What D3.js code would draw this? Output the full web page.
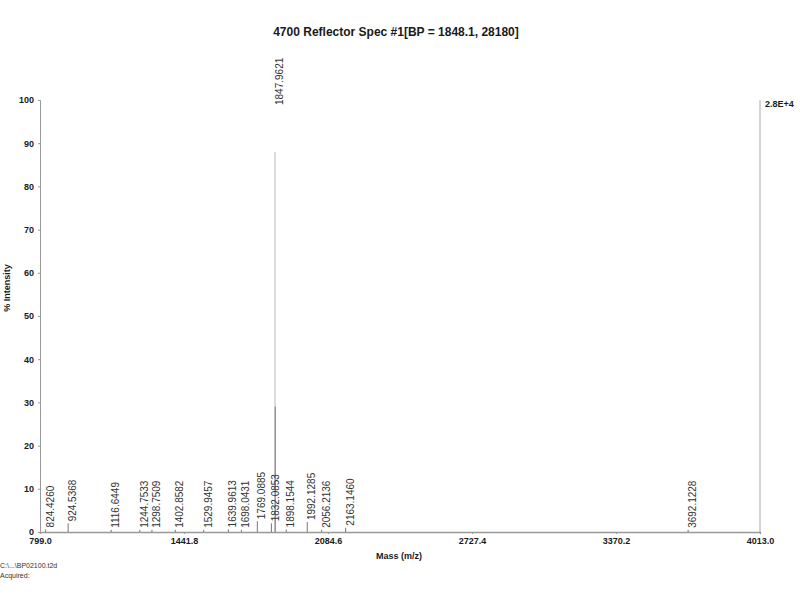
<!DOCTYPE html>
<html>
<head>
<meta charset="utf-8">
<script src="https://cdn.jsdelivr.net/npm/d3@7"></script>
<style>
  html, body { margin: 0; padding: 0; background: #fff; }
  svg { display: block; font-family: "Liberation Sans", Arial, sans-serif; }
</style>
</head>
<body>
<svg id="chart" width="800" height="600"></svg>
<script>
// ---- data ----
const title = "4700 Reflector Spec #1[BP = 1848.1, 28180]";
const xTicks = [799.0, 1441.8, 2084.6, 2727.4, 3370.2, 4013.0];
const yTicks = [0, 10, 20, 30, 40, 50, 60, 70, 80, 90, 100];
const peakMz = [824.4260, 924.5368, 1116.6449, 1244.7533, 1298.7509, 1402.8582,
  1529.9457, 1639.9613, 1698.0431, 1769.0885, 1832.0853, 1847.9621, 1848.96,
  1898.1544, 1992.1285, 2056.2136, 2163.1460, 3692.1228];
const peakInt = [0.6, 2.0, 0.5, 0.5, 0.5, 0.5, 0.5, 0.6, 0.5, 2.5, 2.0, 88, 29,
  0.6, 2.3, 0.5, 1.0, 0.5];
const peakLabeled = [true, true, true, true, true, true, true, true, true, true,
  true, true, false, true, true, true, true, true];
const maxIntensityLabel = "2.8E+4";
const footer = ["C:\\...\\BP02100.t2d", "Acquired:"];

// ---- layout ----
const svg = d3.select("#chart");
const x = d3.scaleLinear().domain([799.0, 4013.0]).range([40, 760]);
const y = d3.scaleLinear().domain([0, 100]).range([532, 100]);
const ink = "#1a1a1a";

// title
svg.append("text").attr("x", 396).attr("y", 36).attr("text-anchor", "middle")
  .attr("font-size", 12).attr("font-weight", "bold").attr("fill", ink).text(title);

// right frame line
svg.append("line").attr("x1", 760).attr("x2", 760).attr("y1", y(100)).attr("y2", y(0))
  .attr("stroke", "#aaa").attr("stroke-width", 1);

// y axis
const yAxis = d3.axisLeft(y).tickValues(yTicks).tickSize(2).tickPadding(4)
  .tickFormat(d3.format("d"));
const gy = svg.append("g").attr("transform", "translate(40,0)").call(yAxis);
gy.select(".domain").attr("stroke", "#999");
gy.selectAll(".tick line").attr("stroke", "#999");
gy.selectAll(".tick text").attr("font-size", 9).attr("font-weight", "bold")
  .attr("fill", ink).attr("font-family", "Liberation Sans, Arial, sans-serif");

// x axis
const xAxis = d3.axisBottom(x).tickValues(xTicks).tickSize(2).tickPadding(4)
  .tickFormat(d3.format(".1f"));
const gx = svg.append("g").attr("transform", "translate(0,532)").call(xAxis);
gx.select(".domain").attr("stroke", "#999").attr("stroke-width", 1.4);
gx.selectAll(".tick line").attr("stroke", "#999");
gx.selectAll(".tick text").attr("font-size", 9).attr("font-weight", "bold")
  .attr("fill", ink).attr("font-family", "Liberation Sans, Arial, sans-serif");

// axis titles
svg.append("text").attr("x", 399).attr("y", 559).attr("text-anchor", "middle")
  .attr("font-size", 9).attr("font-weight", "bold").attr("fill", ink).text("Mass (m/z)");
svg.append("text").attr("transform", "translate(10,288) rotate(-90)")
  .attr("text-anchor", "middle").attr("font-size", 9).attr("font-weight", "bold")
  .attr("fill", ink).text("% Intensity");

// max intensity label
svg.append("text").attr("x", 765).attr("y", 107).attr("font-size", 9)
  .attr("font-weight", "bold").attr("fill", ink).text(maxIntensityLabel);

// peaks
const peaks = peakMz.map((m, i) => ({ mz: m, v: peakInt[i], lab: peakLabeled[i] }));
svg.append("g").selectAll("line").data(peaks).join("line")
  .attr("x1", d => x(d.mz)).attr("x2", d => x(d.mz))
  .attr("y1", y(0)).attr("y2", d => y(d.v))
  .attr("stroke", d => d.v > 50 ? "#b8b8b8" : "#777").attr("stroke-width", 1);

// peak labels (rotated, reading upward)
const basePeak = d3.max(peaks, d => d.v);
svg.append("g").selectAll("text").data(peaks.filter(d => d.lab)).join("text")
  .attr("transform", d => {
    const px = x(d.mz) + 4.5;
    const py = d.v === basePeak ? y(100) + 5 : Math.min(y(0) - 2, y(d.v) - 2);
    return `translate(${px},${py}) rotate(-90)`;
  })
  .attr("dy", "0.35em").attr("font-size", 10).attr("fill", "#333")
  .text(d => d.mz.toFixed(4));

// footer
svg.append("text").attr("x", 0).attr("y", 568).attr("font-size", 7).attr("fill", "#333").text(footer[0]);
svg.append("text").attr("x", 0).attr("y", 578).attr("font-size", 7).attr("fill", "#333").text(footer[1]);
</script>
</body>
</html>
